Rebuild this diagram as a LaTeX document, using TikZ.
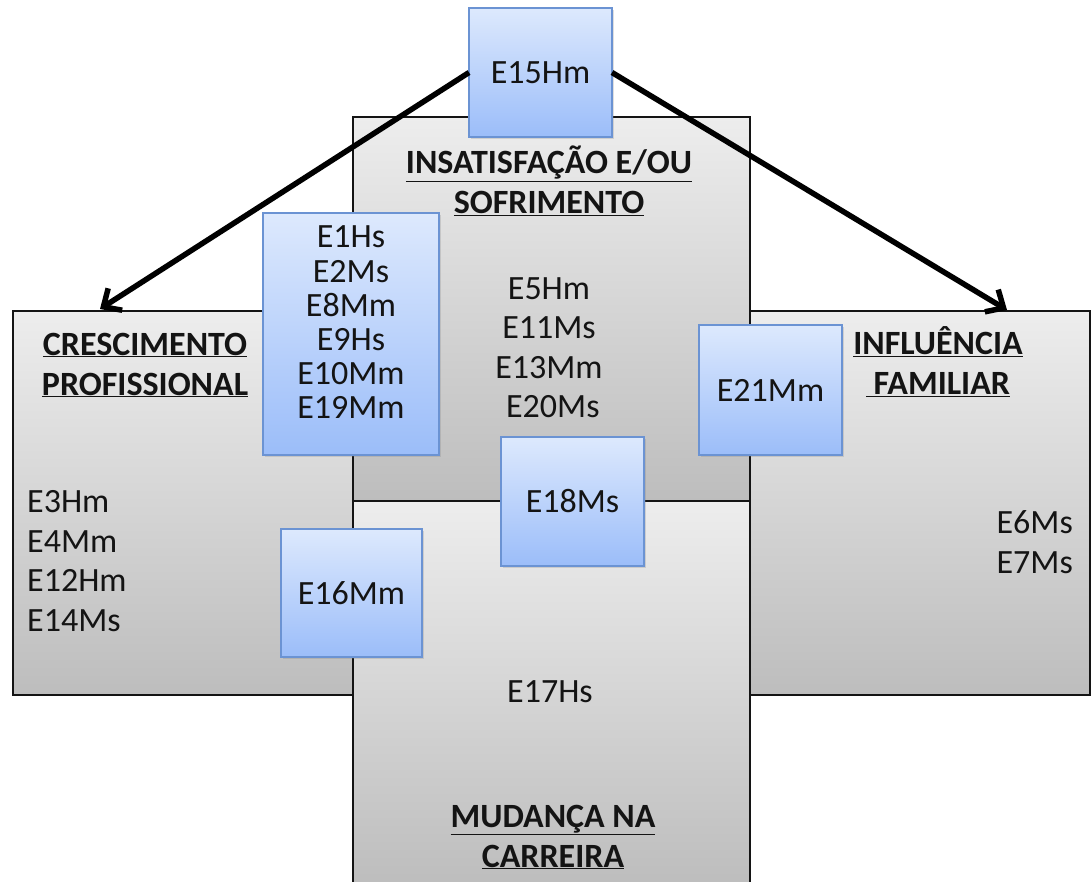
\documentclass[tikz,border=0pt]{standalone}
\usepackage{fontspec}
\setmainfont{Carlito}
\usetikzlibrary{arrows.meta,shadows}
\definecolor{grayTop}{HTML}{EDEDED}
\definecolor{grayBot}{HTML}{BDBDBD}
\definecolor{blueTop}{HTML}{DDE9FD}
\definecolor{blueBot}{HTML}{9BBDF9}
\definecolor{blueEdge}{HTML}{6B93D3}
\definecolor{ink}{HTML}{141414}
\begin{document}
\begin{tikzpicture}[x=1pt,y=1pt,
  graybox/.style={draw=ink, line width=1.8pt, top color=grayTop, bottom color=grayBot, inner sep=0pt, outer sep=0pt},
  bluebox/.style={draw=blueEdge, line width=1.5pt, top color=blueTop, bottom color=blueBot, inner sep=0pt, outer sep=0pt,
    drop shadow={opacity=0.25, shadow xshift=1.5pt, shadow yshift=-1.5pt}, font=\fontsize{34}{34}\selectfont, text=ink},
  head/.style={font=\fontsize{34}{40}\selectfont\bfseries, text=ink, align=center, inner sep=0pt},
  lst/.style={font=\fontsize{34}{39.5}\selectfont, text=ink, inner sep=0pt},
  conn/.style={line width=5.5pt, draw=black, -{Straight Barb[length=14pt,width=26pt]}}]
\useasboundingbox (0,0) rectangle (1091,-881);
% gray regions
\node[graybox, minimum width=397pt, minimum height=384pt] (ins) at (551.5,-309) {};
\node[graybox, minimum width=397pt, minimum height=385pt] (mud) at (551.5,-693.5) {};
\node[graybox, minimum width=340pt, minimum height=384pt] (cres) at (183,-503) {};
\node[graybox, minimum width=340pt, minimum height=384pt] (inf) at (920,-503) {};
% headings
\node[head] (tins) at (549,-181) {\underline{INSATISFAÇÃO E/OU}\\\underline{SOFRIMENTO}};
\node[head] (tcres) at (145,-365) {\underline{CRESCIMENTO}\\\underline{PROFISSIONAL}};
\node[head] (tinf) at (938,-362) {\underline{INFLUÊNCIA}\\\underline{\ FAMILIAR}};
\node[head] (tmud) at (553,-837) {\underline{MUDANÇA NA}\\\underline{CARREIRA}};
% lists
\node[lst, align=center] (lins) at (549,-347.5) {E5Hm\\E11Ms\\E13Mm\\\ E20Ms};
\node[lst, align=left, anchor=west] (lcres) at (27,-561) {E3Hm\\E4Mm\\E12Hm\\E14Ms};
\node[lst, align=right, anchor=east] (linf) at (1073,-542) {E6Ms\\E7Ms};
\node[lst] (lmud) at (550,-692) {E17Hs};
% blue boxes
\node[bluebox, minimum width=143pt, minimum height=129pt] (e15) at (540.5,-72.5) {E15Hm};
\coordinate (cresTip) at (100,-309);
\coordinate (infTip) at (1007,-310);
\draw[conn] (e15.west) -- (cresTip);
\draw[conn] (e15.east) -- (infTip);
\node[bluebox, minimum width=176pt, minimum height=242pt] (elist) at (351,-334) {};
\node[lst, align=center, font=\fontsize{34}{34.2}\selectfont] (telist) at (351,-322.5) {E1Hs\\E2Ms\\E8Mm\\E9Hs\\E10Mm\\E19Mm};
\node[bluebox, minimum width=141pt, minimum height=128pt] (e16) at (351.5,-593) {E16Mm};
\node[bluebox, minimum width=143pt, minimum height=129pt] (e18) at (572.5,-501.5) {E18Ms};
\node[bluebox, minimum width=143pt, minimum height=130pt] (e21) at (770.5,-390) {E21Mm};
\end{tikzpicture}
\end{document}
